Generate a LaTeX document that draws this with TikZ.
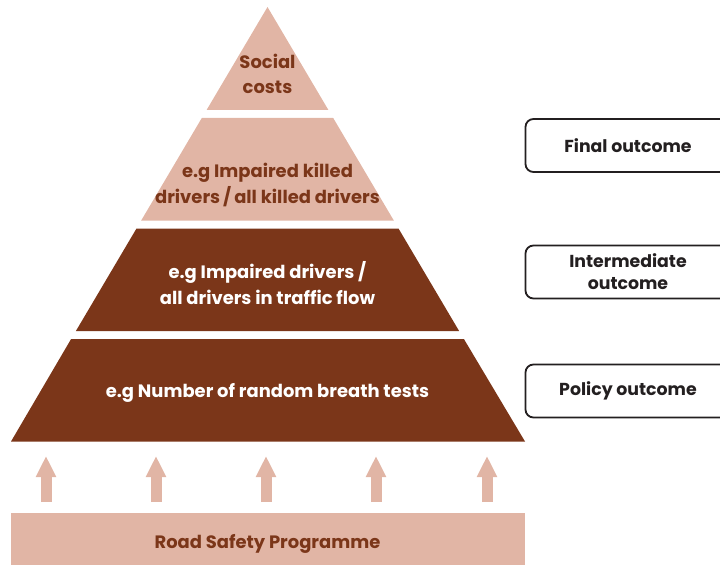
\documentclass[tikz,border=0pt]{standalone}
\usepackage{fontspec}
\setmainfont{Poppins}
\usetikzlibrary{arrows.meta}

\definecolor{lightbrown}{HTML}{E1B5A5}
\definecolor{darkbrown}{HTML}{7B3619}
\definecolor{ink}{HTML}{231F20}

\tikzset{
  label text/.style={align=center, font=\bfseries\fontsize{18}{25.5}\selectfont},
  outcome/.style={draw=ink, line width=1.8bp, rounded corners=8bp,
    minimum width=205bp, minimum height=53bp, align=center, text=ink,
    font=\bfseries\fontsize{17.4}{22}\selectfont},
  uparrow/.style={lightbrown, line width=11bp, -{Triangle[length=21bp,width=19bp]}}
}

\begin{document}
\begin{tikzpicture}[x=1bp,y=-1bp]

        \clip (0,0) rectangle (720,565);

        % pyramid bands
        \fill[lightbrown] (267.5,7) -- (328.4,110) -- (206.6,110) -- cycle;
        \fill[lightbrown] (201.8,118) -- (333.2,118) -- (393.8,220.5) -- (141.2,220.5) -- cycle;
        \fill[darkbrown] (136.5,228.5) -- (398.5,228.5) -- (459.1,331) -- (75.9,331) -- cycle;
        \fill[darkbrown] (71.1,339) -- (463.9,339) -- (525,441.5) -- (11,441.5) -- cycle;

        % programme bar
        \fill[lightbrown] (10.5,512.5) rectangle (525,570);

        \begin{scope}[every node/.style={label text}]
          \node[text=darkbrown] (cost)  at (267.5,74)  {Social\\costs};
          \node[text=darkbrown] (kill)  at (267.5,185) {e.g Impaired killed\\drivers\,/\,all killed drivers};
          \node[text=white]     (flow)  at (267.5,283) {e.g Impaired drivers /\\all drivers in traffic flow};
          \node[text=white]     (tests) at (267.5,393) {e.g Number of random breath tests};
          \node[text=darkbrown] (prog)  at (267.5,544) {Road Safety Programme};
        \end{scope}

        \begin{scope}[every node/.style={outcome}]
          \node (final)  at (628,145.5) {Final outcome};
          \node (interm) at (628,272)   {Intermediate\\outcome};
          \node (policy) at (628,391)   {Policy outcome};
        \end{scope}

        % arrows from the programme up to the pyramid
        \foreach \x [count=\i] in {46,156,266,376,487} {
          \coordinate (a\i) at (\x,502);
          \coordinate (b\i) at (\x,456);
          \draw[uparrow] (a\i) -- (b\i);
        }

      \end{tikzpicture}
\end{document}
